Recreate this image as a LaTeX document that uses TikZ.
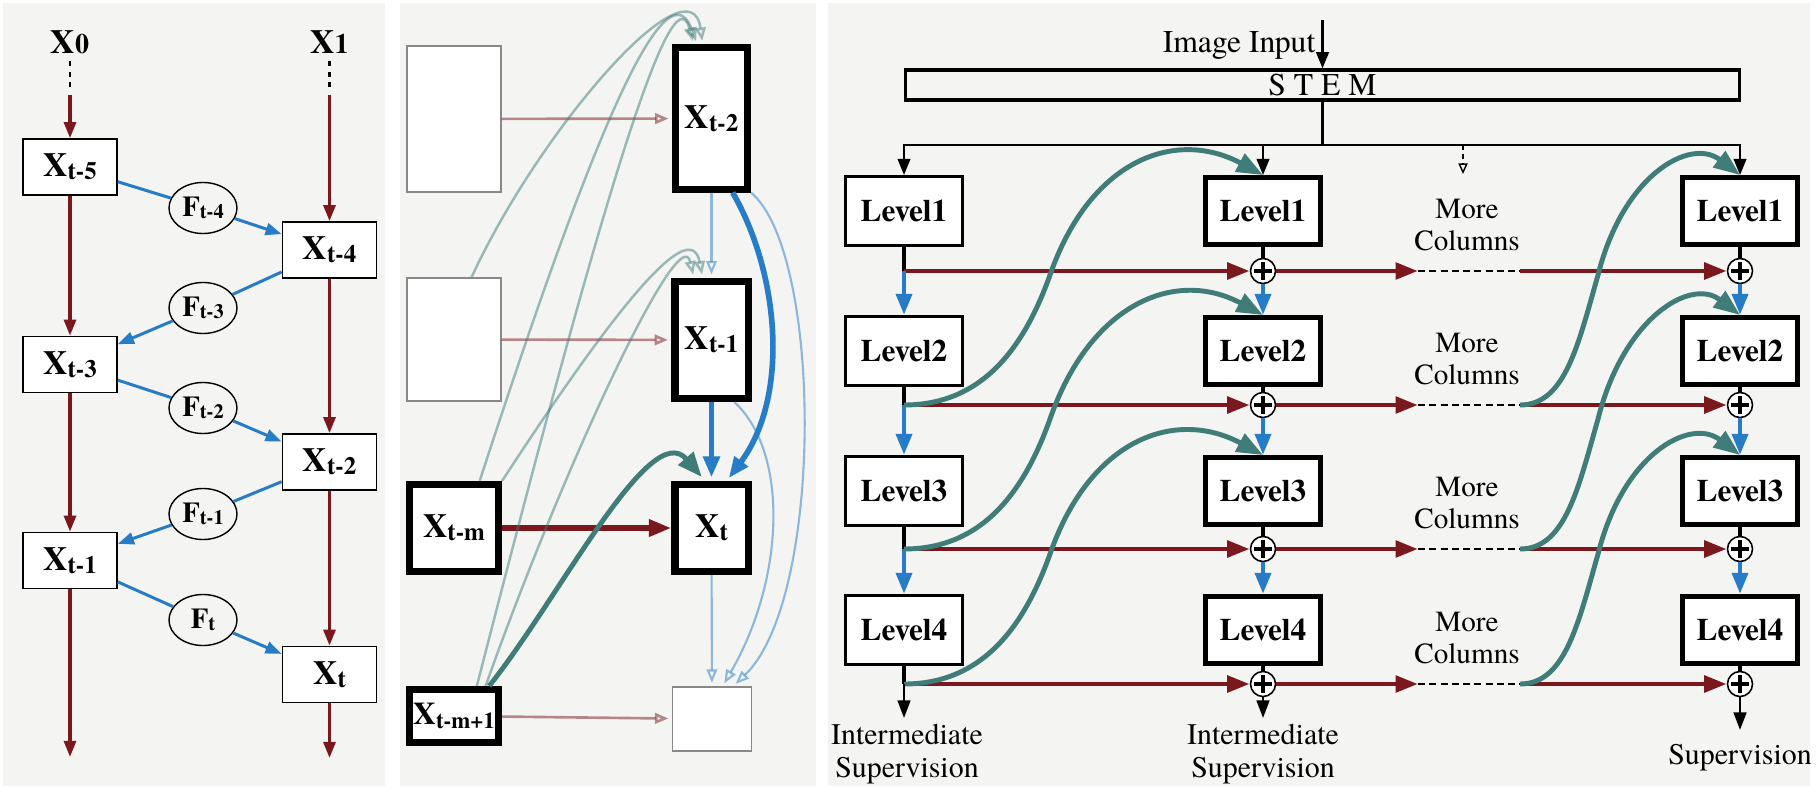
\documentclass[tikz,border=0pt]{standalone}
\usepackage{fontspec}
\setmainfont{texgyretermes}[Extension=.otf, UprightFont=*-regular,
  BoldFont=*-bold, ItalicFont=*-italic, BoldItalicFont=*-bolditalic]
\usepackage{tikz}
\usetikzlibrary{shapes.geometric, arrows.meta, positioning, calc}
\definecolor{darkred}{RGB}{122,24,30}
\definecolor{midblue}{RGB}{38,124,198}
\definecolor{tealgreen}{RGB}{64,124,120}
\definecolor{panelbg}{RGB}{244,244,242}
\definecolor{edgegray}{RGB}{136,136,136}
\newcommand{\xsub}[2]{#1\raisebox{-0.9pt}{\fontsize{7.1}{7.5}\selectfont #2}}
\newcommand{\fsub}[2]{#1\raisebox{-0.5pt}{\fontsize{5.8}{6}\selectfont #2}}

\begin{document}
\begin{tikzpicture}[x=0.01cm, y=-0.01cm,
  xbox/.style={rectangle, draw=black, line width=0.45pt, fill=white,
    minimum width=0.94cm, minimum height=0.56cm, inner sep=0pt,
    font=\fontsize{9.6}{10}\selectfont\bfseries},
  fbub/.style={ellipse, draw=black, line width=0.4pt, fill=panelbg,
    minimum width=0.68cm, minimum height=0.51cm, inner sep=0pt,
    font=\fontsize{8.2}{9}\selectfont\bfseries},
  xlbl/.style={inner sep=2pt, font=\fontsize{9.6}{10}\selectfont\bfseries},
  redarr/.style={color=darkred, line width=0.95pt, -{Triangle[length=4.6pt, width=3.4pt]}},
  bluearr/.style={color=midblue, line width=0.85pt, -{Triangle[length=4.6pt, width=3.4pt]}},
  blueln/.style={color=midblue, line width=0.85pt},
  dotln/.style={line width=0.8pt, dash pattern=on 1.4pt off 1.6pt},
  sbox/.style={rectangle, draw=black, line width=2pt, fill=white, inner sep=0pt,
    font=\fontsize{9.6}{10}\selectfont\bfseries},
  ebox/.style={rectangle, draw=edgegray, line width=0.4pt, fill=white, inner sep=0pt},
  fadered/.style={color=darkred, opacity=0.5, line width=0.75pt, shorten >=1pt,
    -{Triangle[open, length=3.8pt, width=3pt]}},
  fadeteal/.style={color=tealgreen, opacity=0.5, line width=0.7pt, shorten >=1pt,
    -{Triangle[open, length=3.8pt, width=3pt]}},
  fadeblue/.style={color=midblue, opacity=0.5, line width=0.6pt, shorten >=1pt,
    -{Triangle[open, length=3.8pt, width=3pt]}},
  thickred/.style={color=darkred, line width=1.7pt, -{Triangle[length=6.4pt, width=4.6pt]}},
  thickblue/.style={color=midblue, line width=1.6pt, shorten >=1pt,
    -{Triangle[length=6pt, width=4.6pt]}},
  thickteal/.style={color=tealgreen, line width=1.4pt, shorten >=1.5pt,
    -{Triangle[length=7pt, width=5.5pt]}},
  lvl/.style={rectangle, draw=black, line width=0.85pt, fill=white,
    minimum width=1.17cm, minimum height=0.69cm, inner sep=0pt,
    font=\fontsize{8.9}{10}\selectfont\bfseries},
  lvlb/.style={lvl, line width=1.4pt, minimum width=1.15cm, minimum height=0.67cm},
  stembox/.style={rectangle, draw=black, line width=0.95pt,
    minimum width=8.34cm, minimum height=0.30cm, inner sep=0pt,
    font=\fontsize{9}{10}\selectfont},
  plusnode/.style={circle, draw=black, line width=0.45pt, fill=white,
    minimum size=0.25cm, inner sep=0pt,
    path picture={\draw[line width=1.1pt]
      ([yshift=-1.1pt]path picture bounding box.north) -- ([yshift=1.1pt]path picture bounding box.south)
      ([xshift=1.1pt]path picture bounding box.west) -- ([xshift=-1.1pt]path picture bounding box.east);}},
  rowred/.style={color=darkred, line width=1.4pt, -{Triangle[length=6.4pt, width=4.6pt]}},
  stub/.style={black, line width=1.4pt},
  upblue/.style={color=midblue, line width=1.4pt, -{Triangle[length=6pt, width=4.4pt]}},
  skip/.style={color=tealgreen, line width=1.4pt, -{Triangle[length=7.5pt, width=5.6pt]}},
  feed/.style={black, line width=0.6pt, -{Triangle[length=4.6pt, width=3.6pt]}},
  outarr/.style={black, line width=0.7pt, -{Triangle[length=5pt, width=3.6pt]}},
  dashfeed/.style={black, line width=0.4pt, dash pattern=on 1.5pt off 1pt,
    -{Triangle[open, length=3pt, width=2.6pt]}},
  dashln/.style={black, line width=0.45pt, dash pattern=on 2pt off 1.2pt},
  txt/.style={inner sep=0pt, font=\fontsize{9}{10}\selectfont},
  more/.style={inner sep=0pt, align=center, font=\fontsize{8.3}{9.2}\selectfont},
  sup/.style={inner sep=0pt, align=center, anchor=north, font=\fontsize{8.5}{9.4}\selectfont}
]
\useasboundingbox (0,0) rectangle (1819,788);
\fill[white] (0,0) rectangle (1819,788);
\fill[panelbg] (3,3) rectangle (385,786);
\fill[panelbg] (400,3) rectangle (816,786);
\fill[panelbg] (828,3) rectangle (1810,786);

% left panel
\node[xlbl] (x0) at (70,42) {X\fontsize{8}{8}\selectfont 0};
\node[xlbl] (x1) at (329.5,42) {X\fontsize{8}{8}\selectfont 1};
\node[xbox] (xt5) at (70,167) {\xsub{X}{t-5}};
\node[xbox] (xt4) at (329.5,250) {\xsub{X}{t-4}};
\node[xbox] (xt3) at (70,364.5) {\xsub{X}{t-3}};
\node[xbox] (xt2) at (329.5,462) {\xsub{X}{t-2}};
\node[xbox] (xt1) at (70,560.5) {\xsub{X}{t-1}};
\node[xbox] (xt0) at (329.5,674.5) {\xsub{X}{t}};
\node[fbub] (f4) at (203,208) {\fsub{F}{t-4}};
\node[fbub] (f3) at (203,308) {\fsub{F}{t-3}};
\node[fbub] (f2) at (203,408) {\fsub{F}{t-2}};
\node[fbub] (f1) at (203,514) {\fsub{F}{t-1}};
\node[fbub] (f0) at (203,620) {\fsub{F}{t}};
\coordinate (dotA) at (70,88);
\coordinate (dotB) at (329.5,88);
\coordinate (inA) at (70,95);
\coordinate (inB) at (329.5,95);
\coordinate (outA) at (70,757);
\coordinate (outB) at (329.5,758);

\draw[dotln] (x0) -- (dotA);
\draw[dotln] (x1) -- (dotB);
\draw[redarr] (inA) -- (xt5);
\draw[redarr] (inB) -- (xt4);
\foreach \f/\t in {xt5/xt3, xt3/xt1, xt4/xt2, xt2/xt0}
  \draw[redarr] (\f) -- (\t);
\draw[redarr] (xt1) -- (outA);
\draw[redarr] (xt0) -- (outB);
\foreach \f/\m/\t in {xt5/f4/xt4, xt4/f3/xt3, xt3/f2/xt2, xt2/f1/xt1, xt1/f0/xt0} {
  \draw[blueln] (\f) -- (\m);
  \draw[bluearr] (\m) -- (\t);
}

% middle panel
\node[ebox, minimum width=0.94cm, minimum height=1.46cm] (ea) at (454,119) {};
\node[sbox, minimum width=0.72cm, minimum height=1.41cm] (xa) at (711.5,118.5) {\xsub{X}{t-2}};
\node[ebox, minimum width=0.94cm, minimum height=1.23cm] (eb) at (454,339.5) {};
\node[sbox, minimum width=0.73cm, minimum height=1.17cm] (xb) at (711.5,340) {\xsub{X}{t-1}};
\node[sbox, minimum width=0.89cm, minimum height=0.87cm] (xm) at (454,528) {\xsub{X}{t-m}};
\node[sbox, minimum width=0.73cm, minimum height=0.87cm] (xn) at (711.5,528) {\xsub{X}{t}};
\node[sbox, minimum width=0.89cm, minimum height=0.53cm, font=\fontsize{9}{10}\selectfont\bfseries] (xm1) at (454,716)
  {X\raisebox{-0.9pt}{\fontsize{6.5}{7}\selectfont t-m+1}};
\node[ebox, minimum width=0.79cm, minimum height=0.64cm] (ec) at (712,719) {};

\draw[fadered] (ea) -- (xa);
\draw[fadered] (eb) -- (xb);
\draw[thickred] (xm) -- (xn);
\draw[fadered] (xm1) -- (ec);

\draw[fadeteal] ([xshift=5pt]eb.north) .. controls +(68,-148) and +(-12,-88) .. ([xshift=-2.5pt]xa.north);
\draw[fadeteal] ([xshift=7.3pt]xm.north) .. controls +(80,-245) and +(-37,-98) .. ([xshift=-4pt]xa.north);
\draw[fadeteal] ([xshift=6.5pt]xm1.north) .. controls +(113,-440) and +(-23,-83) .. ([xshift=-5pt]xa.north);
\draw[fadeteal] (xm.north east) .. controls +(101,-155) and +(-13,-67) .. ([xshift=-2.5pt]xb.north);
\draw[fadeteal] ([xshift=9pt]xm1.north) .. controls +(74,-210) and +(-14,-62) .. ([xshift=-5pt]xb.north);
\draw[thickteal] ([xshift=10pt]xm1.north) .. controls +(71,-89) and +(-55,-64) .. ([xshift=-1.8pt]xn.north);

\draw[fadeblue] (xa) -- (xb);
\draw[thickblue] (xb) -- (xn);
\draw[thickblue] ([xshift=6pt]xa.south) .. controls +(47,81) and +(63,-84) .. ([xshift=4.3pt]xn.north);
\draw[fadeblue] (xa.south east) .. controls +(72,61) and +(91,-87) .. ([xshift=6pt]ec.north);
\draw[fadeblue] ([xshift=6.5pt]xb.south) .. controls +(55,51) and +(62,-107) .. ([xshift=3pt]ec.north);
\draw[fadeblue] (xn) -- (ec);

% right panel
\node[txt, anchor=base east] (imgin) at (1316,53) {Image Input};
\coordinate (inp) at (1322.5,20);
\node[stembox] (stem) at (1322.5,85) {S T E M};
\coordinate (bus) at (1322.5,145);
\coordinate (dm0) at (1463,145);
\coordinate (dm1) at (1463,174);

\foreach \k/\yy in {1/211, 2/351, 3/491, 4/630} {
  \node[lvl] (a\k) at (904,\yy) {Level\k};
  \node[lvlb] (b\k) at (1263,\yy) {Level\k};
  \node[lvlb] (c\k) at (1740,\yy) {Level\k};
}
\foreach \k/\yy in {1/271, 2/405, 3/549, 4/684} {
  \coordinate (ja\k) at (904,\yy);
  \node[plusnode] (pb\k) at (1263,\yy) {};
  \node[plusnode] (pc\k) at (1740,\yy) {};
  \coordinate (ds\k) at (1418,\yy);
  \coordinate (de\k) at (1520,\yy);
  \node[more] (mc\k) at (1467,\yy-46) {More\\Columns};
}
\coordinate (oa) at (904,718);
\coordinate (ob) at (1263,718);
\coordinate (oc) at (1740,730);

\draw[feed] (inp) -- (stem);
\draw[black, line width=0.6pt] (stem) -- (bus);
\draw[feed] (bus) -| (a1);
\draw[feed] (bus) -| (b1);
\draw[feed] (bus) -| (c1);
\draw[dashfeed] (dm0) -- (dm1);

\foreach \k in {1,2,3,4} {
  \draw[stub] (a\k) -- (ja\k);
  \draw[stub] (b\k) -- (pb\k);
  \draw[stub] (c\k) -- (pc\k);
  \draw[rowred] (ja\k) -- (pb\k);
  \draw[rowred] (pb\k) -- (ds\k);
  \draw[dashln] (ds\k) -- (de\k);
  \draw[rowred] (de\k) -- (pc\k);
}
\foreach \k/\m in {1/2, 2/3, 3/4} {
  \draw[upblue] (ja\k) -- (a\m);
  \draw[upblue] (pb\k) -- (b\m);
  \draw[upblue] (pc\k) -- (c\m);
}
\foreach \k/\m in {2/1, 3/2, 4/3} {
  \draw[skip] (ja\k) .. controls +(80,0) and +(-25,70) .. ($(ja\k)+(146,-130)$)
    .. controls +(40,-115) and +(-88,-47) .. (b\m.north);
  \draw[skip] (de\k) .. controls +(45,0) and +(-20,70) .. ($(de\k)+(78,-130)$)
    .. controls +(25,-100) and +(-50,-38) .. (c\m.north);
}
\draw[outarr] (ja4) -- (oa);
\draw[outarr] (pb4) -- (ob);
\draw[outarr] (pc4) -- (oc);
\node[sup] (sa) at (907,723) {Intermediate\\Supervision};
\node[sup] (sb) at (1263,723) {Intermediate\\Supervision};
\node[sup] (sc) at (1740,744) {Supervision};
\end{tikzpicture}
\end{document}
